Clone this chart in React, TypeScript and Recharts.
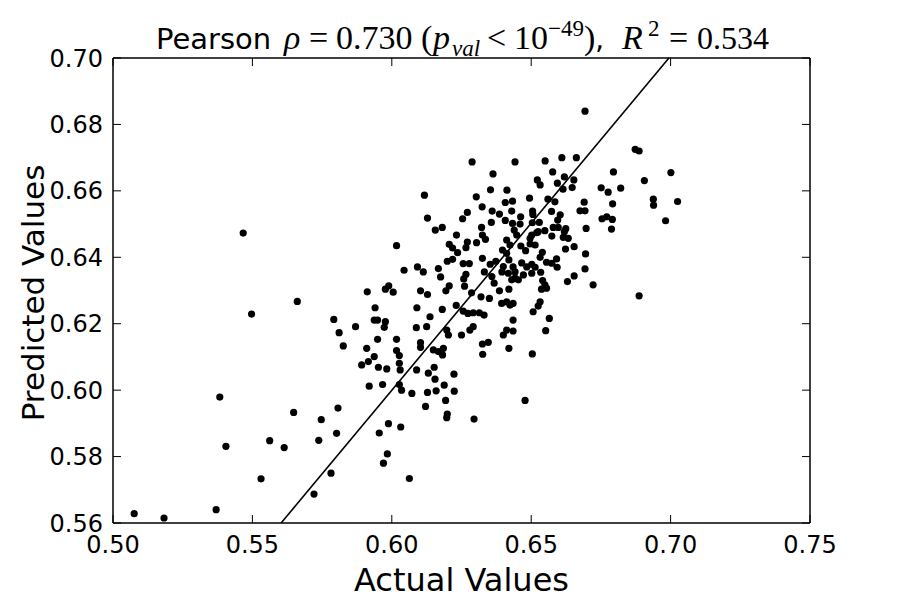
import React from "react";
import { ScatterChart, Scatter, XAxis, YAxis, ReferenceLine } from "recharts";

const xTicks = [0.5, 0.55, 0.6, 0.65, 0.7, 0.75];
const yTicks = [0.56, 0.58, 0.6, 0.62, 0.64, 0.66, 0.68, 0.7];

// least squares line, end points where it leaves the frame
const fitLine = [
  { x: 0.5603, y: 0.56 },
  { x: 0.6994, y: 0.7 },
];

// [actual, predicted]
const samples: [number, number][] = [
  [0.5076, 0.5628], [0.5183, 0.5615], [0.537, 0.564], [0.5497, 0.6229], [0.5661, 0.6267],
  [0.5792, 0.6213], [0.5811, 0.6173], [0.5826, 0.6133], [0.5383, 0.5979], [0.5648, 0.5933],
  [0.5747, 0.5911], [0.5807, 0.5946], [0.5405, 0.5831], [0.5562, 0.5848], [0.5614, 0.5827],
  [0.5738, 0.5849], [0.5802, 0.587], [0.5531, 0.5733], [0.5782, 0.575], [0.5721, 0.5687],
  [0.5467, 0.6473],
  [0.6288, 0.6687], [0.6363, 0.6651], [0.6117, 0.6587], [0.6354, 0.6603], [0.6413, 0.6602],
  [0.6442, 0.6687], [0.6303, 0.6582], [0.6324, 0.6552], [0.6407, 0.6565], [0.6433, 0.6569],
  [0.6128, 0.6518], [0.6271, 0.6535], [0.6254, 0.6516], [0.636, 0.6539], [0.6386, 0.653],
  [0.643, 0.6539], [0.6357, 0.6505], [0.6407, 0.6511], [0.6433, 0.6502], [0.6322, 0.649],
  [0.6181, 0.649], [0.6156, 0.6482],
  [0.6693, 0.684], [0.6873, 0.6725], [0.6887, 0.672], [0.655, 0.669], [0.661, 0.67],
  [0.6662, 0.67], [0.6577, 0.6657], [0.6619, 0.6642], [0.6653, 0.6633], [0.6522, 0.6633],
  [0.6532, 0.6618], [0.6594, 0.6623], [0.6795, 0.6657], [0.7001, 0.6655], [0.6906, 0.6631],
  [0.6614, 0.6605], [0.6647, 0.661], [0.6751, 0.6609], [0.6776, 0.6596], [0.6821, 0.6608],
  [0.6938, 0.6575], [0.6939, 0.6557], [0.7025, 0.6568], [0.6494, 0.6578], [0.656, 0.6575],
  [0.6585, 0.6567], [0.669, 0.6566], [0.6792, 0.6561], [0.6505, 0.6539], [0.6506, 0.6529],
  [0.6573, 0.6538], [0.6604, 0.6528], [0.6675, 0.654], [0.6693, 0.654], [0.6462, 0.6522],
  [0.6595, 0.6512], [0.6754, 0.6516], [0.6771, 0.6522], [0.6791, 0.6514], [0.6982, 0.651],
  [0.6504, 0.6504], [0.6529, 0.6505], [0.6697, 0.6487], [0.6788, 0.6485],
  [0.6017, 0.6435], [0.6232, 0.6467], [0.6325, 0.6467], [0.6336, 0.6454], [0.6304, 0.6444],
  [0.6271, 0.6446], [0.6206, 0.6439], [0.6218, 0.6428], [0.6236, 0.6414], [0.6266, 0.6429],
  [0.6397, 0.6422], [0.6199, 0.6388], [0.6218, 0.6394], [0.6256, 0.6381], [0.6278, 0.6381],
  [0.6325, 0.6397], [0.6353, 0.6379], [0.6373, 0.6388], [0.6044, 0.6361], [0.6092, 0.6371],
  [0.6113, 0.6356], [0.6167, 0.6366], [0.6175, 0.6341], [0.6266, 0.6349], [0.6258, 0.6335],
  [0.6332, 0.6356], [0.6359, 0.6342], [0.6367, 0.6322], [0.6395, 0.6356], [0.64, 0.6372],
  [0.5912, 0.6296], [0.5977, 0.6304], [0.5989, 0.6314], [0.6005, 0.6295], [0.6103, 0.6299],
  [0.6128, 0.6288], [0.6194, 0.6299], [0.6206, 0.6314], [0.6261, 0.6313], [0.6286, 0.6293],
  [0.632, 0.6281], [0.635, 0.6276], [0.6386, 0.6299], [0.6394, 0.6261], [0.594, 0.6248],
  [0.609, 0.6248], [0.6181, 0.6243], [0.6231, 0.6255], [0.6256, 0.6238], [0.6273, 0.6231],
  [0.6292, 0.6233], [0.6314, 0.6233], [0.6331, 0.6226], [0.5937, 0.6211], [0.5949, 0.6211],
  [0.5977, 0.6206], [0.5973, 0.6189], [0.587, 0.6191], [0.6137, 0.6221], [0.6088, 0.6188],
  [0.6125, 0.6191], [0.5949, 0.6153], [0.6017, 0.6153], [0.6103, 0.6143], [0.6103, 0.6129],
  [0.591, 0.6126], [0.6017, 0.6119], [0.6197, 0.6181], [0.6203, 0.6166], [0.625, 0.6166],
  [0.628, 0.6181], [0.6292, 0.6191], [0.6325, 0.6139], [0.6346, 0.6144], [0.64, 0.6166],
  [0.6149, 0.6121], [0.6167, 0.6116], [0.6185, 0.6126], [0.6182, 0.6106],
  [0.646, 0.65], [0.6579, 0.649], [0.6597, 0.649], [0.6624, 0.6486], [0.6525, 0.6477],
  [0.6549, 0.648], [0.6439, 0.6482], [0.6448, 0.6467], [0.6502, 0.6467], [0.652, 0.6474],
  [0.6496, 0.6457], [0.6574, 0.6464], [0.6615, 0.646], [0.6633, 0.6457], [0.6619, 0.6477],
  [0.6412, 0.6452], [0.6424, 0.6437], [0.6463, 0.6434], [0.6496, 0.644], [0.6514, 0.6437],
  [0.6623, 0.6425], [0.6654, 0.6432], [0.648, 0.642], [0.654, 0.6415], [0.6695, 0.641],
  [0.6412, 0.6412], [0.642, 0.6392], [0.6532, 0.64], [0.6555, 0.6385], [0.6574, 0.6382],
  [0.6591, 0.6395], [0.6593, 0.637], [0.6466, 0.6383], [0.6484, 0.6371], [0.6502, 0.6379],
  [0.6514, 0.637], [0.6435, 0.6371], [0.6442, 0.6356], [0.6418, 0.6352], [0.6534, 0.6355],
  [0.6502, 0.6352], [0.6472, 0.6347], [0.6693, 0.6365], [0.6654, 0.6344], [0.663, 0.6327],
  [0.6541, 0.633], [0.6549, 0.6317], [0.6537, 0.6304], [0.6555, 0.6307], [0.643, 0.6332],
  [0.6454, 0.6332], [0.6442, 0.6337], [0.6722, 0.6317], [0.642, 0.6304], [0.6887, 0.6284],
  [0.6532, 0.6266], [0.6525, 0.6253], [0.6507, 0.6236], [0.6424, 0.6256], [0.6435, 0.6261],
  [0.6412, 0.6266], [0.6565, 0.6216], [0.6552, 0.6179], [0.6435, 0.6211], [0.6435, 0.6178],
  [0.6412, 0.6181], [0.642, 0.6126], [0.6504, 0.6109],
  [0.6027, 0.6104], [0.5892, 0.6076], [0.5916, 0.6086], [0.5937, 0.6101], [0.5952, 0.6069],
  [0.5982, 0.6064], [0.6027, 0.6081], [0.603, 0.6061], [0.6089, 0.6061], [0.6152, 0.6069],
  [0.6131, 0.6051], [0.6155, 0.6033], [0.6188, 0.6015], [0.6223, 0.6048], [0.6326, 0.6108],
  [0.5919, 0.6012], [0.5967, 0.6017], [0.6027, 0.6017], [0.6035, 0.6], [0.6072, 0.599],
  [0.6128, 0.5993], [0.6159, 0.5998], [0.6224, 0.5997], [0.6121, 0.5951], [0.6193, 0.5969],
  [0.6199, 0.5928], [0.6197, 0.5917], [0.6295, 0.5913], [0.5988, 0.5899], [0.6032, 0.5889],
  [0.5955, 0.5871], [0.5984, 0.5808], [0.597, 0.578], [0.6063, 0.5734], [0.6478, 0.5969],
];

const points = samples.map(([x, y]) => ({ x, y }));

const sans = "DejaVu Sans";
const serif = "Liberation Serif";
const tickLen = 8;
const frame = { stroke: "#000", strokeWidth: 1.5 };

const Dot = (props: any) => <circle cx={props.cx} cy={props.cy} r={3.6} fill="#000" />;

// matplotlib classic style: ticks point into the frame
const BottomTick = (props: any) => {
  const { x, y, payload } = props;
  return (
    <g>
      <line x1={x} x2={x} y1={y - 12} y2={y - 12 - tickLen} stroke="#000" />
      <text x={x} y={y} dy="0.76em" textAnchor="middle" fontFamily={sans} fontSize={24} fill="#000">
        {payload.value.toFixed(2)}
      </text>
    </g>
  );
};

const LeftTick = (props: any) => {
  const { x, y, payload } = props;
  return (
    <g>
      <line x1={x + 10} x2={x + 10 + tickLen} y1={y} y2={y} stroke="#000" />
      <text x={x} y={y} dy="0.36em" textAnchor="end" fontFamily={sans} fontSize={24} fill="#000">
        {payload.value.toFixed(2)}
      </text>
    </g>
  );
};

const TopTick = (props: any) => (
  <line x1={props.x} x2={props.x} y1={props.y} y2={props.y + tickLen} stroke="#000" />
);

const RightTick = (props: any) => (
  <line x1={props.x} x2={props.x - tickLen} y1={props.y} y2={props.y} stroke="#000" />
);

export default function App() {
  return (
    <div style={{ position: "absolute", left: 0, top: 0, width: 900, height: 600, background: "#fff" }}>
      <ScatterChart width={900} height={600} margin={{ top: 57, right: 89, bottom: 0, left: 0 }}>
        <XAxis
          type="number"
          dataKey="x"
          domain={[0.5, 0.75]}
          ticks={xTicks}
          interval={0}
          allowDataOverflow
          height={77}
          tickSize={0}
          tickMargin={12}
          tick={BottomTick}
          tickLine={false}
          axisLine={frame}
        />
        <XAxis
          xAxisId="top"
          orientation="top"
          type="number"
          dataKey="x"
          domain={[0.5, 0.75]}
          ticks={xTicks}
          interval={0}
          allowDataOverflow
          height={1}
          tickSize={0}
          tickMargin={0}
          tick={TopTick}
          tickLine={false}
          axisLine={frame}
        />
        <YAxis
          type="number"
          dataKey="y"
          domain={[0.56, 0.7]}
          ticks={yTicks}
          interval={0}
          allowDataOverflow
          width={113}
          tickSize={0}
          tickMargin={10}
          tick={LeftTick}
          tickLine={false}
          axisLine={frame}
        />
        <YAxis
          yAxisId="right"
          orientation="right"
          type="number"
          dataKey="y"
          domain={[0.56, 0.7]}
          ticks={yTicks}
          interval={0}
          allowDataOverflow
          width={1}
          tickSize={0}
          tickMargin={0}
          tick={RightTick}
          tickLine={false}
          axisLine={frame}
        />
        <ReferenceLine segment={fitLine} stroke="#000" strokeWidth={1.6} />
        <Scatter data={points} shape={Dot} isAnimationActive={false} />
      </ScatterChart>
      <svg width={900} height={600} style={{ position: "absolute", left: 0, top: 0, pointerEvents: "none" }}>
        <g fill="#000" fontSize={34} fontFamily={serif}>
          <text x={156} y={49} fontFamily={sans} fontSize={29}>Pearson</text>
          <text x={284} y={49} fontStyle="italic">ρ</text>
          <text x={309} y={49}>=</text>
          <text x={336} y={49}>0.730</text>
          <text x={421} y={49}>(</text>
          <text x={433} y={49} fontStyle="italic">p</text>
          <text x={452} y={56} fontStyle="italic" fontSize={23}>val</text>
          <text x={487} y={49}>&lt;</text>
          <text x={514} y={49}>10</text>
          <text x={548} y={36} fontSize={23}>−49</text>
          <text x={584} y={49}>)</text>
          <text x={595} y={49} fontFamily={sans} fontSize={29}>,</text>
          <text x={622} y={49} fontStyle="italic">R</text>
          <text x={648} y={36} fontSize={23}>2</text>
          <text x={669} y={49}>=</text>
          <text x={697} y={49} fontSize={32}>0.534</text>
        </g>
        <text
          x={33}
          y={293}
          transform="rotate(-90 33 293)"
          textAnchor="middle"
          dominantBaseline="central"
          fontFamily={sans}
          fontSize={31}
          fill="#000"
        >
          Predicted Values
        </text>
        <text x={461.5} y={580} textAnchor="middle" dominantBaseline="central" fontFamily={sans} fontSize={32} fill="#000">
          Actual Values
        </text>
      </svg>
    </div>
  );
}
